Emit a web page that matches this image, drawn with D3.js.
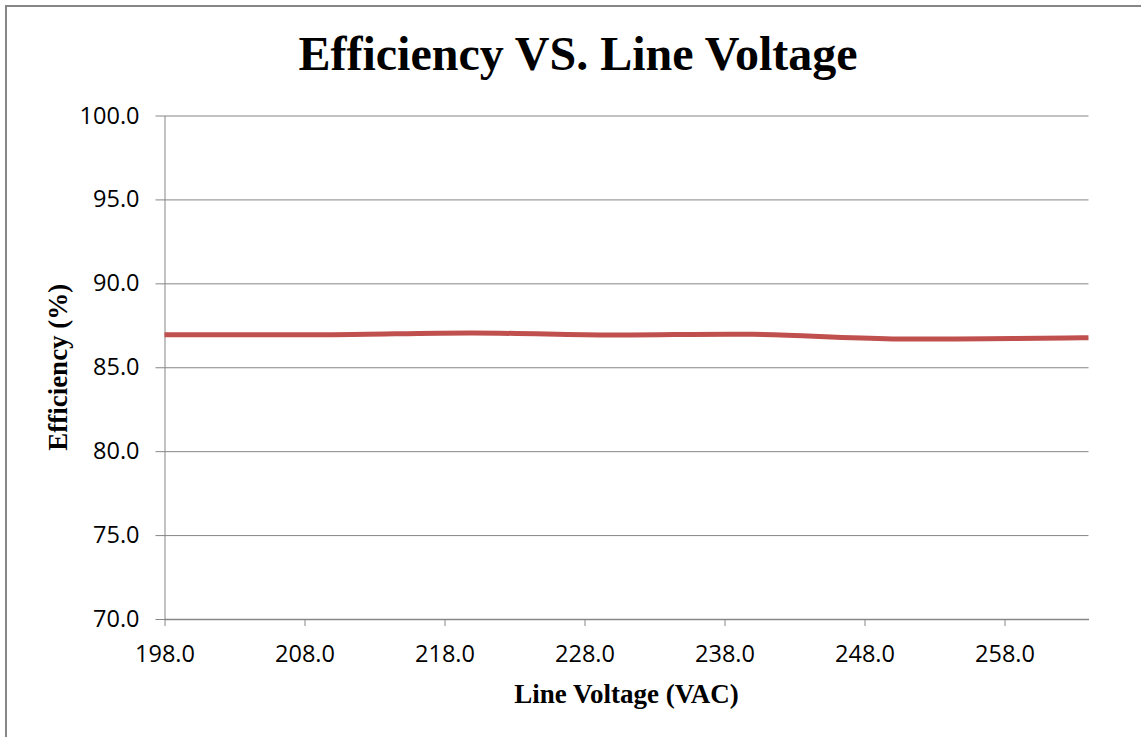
<!DOCTYPE html>
<html>
<head>
<meta charset="utf-8">
<script src="https://cdn.jsdelivr.net/npm/d3@7"></script>
<style>
    body { margin: 0; background: white; }
</style>
</head>
<body>
<div id="chart"></div>
<script>
// measured points (line voltage VAC, efficiency %)
var voltages = [198, 210, 220, 230, 240, 250, 264];
var efficiency = [86.94, 86.94, 87.04, 86.92, 86.96, 86.69, 86.76];

var xTicks = [198, 208, 218, 228, 238, 248, 258];
var yTicks = [70, 75, 80, 85, 90, 95, 100];

document.addEventListener("DOMContentLoaded", () => {
    drawLineChart();
});

let drawLineChart = () => {
    var width = 1141
    var height = 737
    var margin = { top: 115.5, right: 52.5, bottom: 118, left: 164.5 }

    var svg = d3.select("#chart")
        .append("svg")
        .attr("width", width)
        .attr("height", height)

    // outer chart border
    svg.append("rect")
        .attr("x", 6)
        .attr("y", 6)
        .attr("width", width)
        .attr("height", height)
        .attr("fill", "none")
        .attr("stroke", "#868686")
        .attr("stroke-width", 2)

    var x = d3.scaleLinear()
        .domain([198, 264])
        .range([margin.left, width - margin.right])

    var y = d3.scaleLinear()
        .domain([70, 100])
        .range([height - margin.bottom, margin.top])

    // gridlines + y axis
    var yAxis = svg.append("g")
        .attr("transform", "translate(" + margin.left + ",0)")
        .call(d3.axisLeft(y)
            .tickValues(yTicks)
            .tickSize(-(width - margin.right - margin.left))
            .tickSizeOuter(0)
            .tickPadding(25)
            .tickFormat(d3.format(".1f")))
    yAxis.select(".domain").attr("stroke", "#868686")
    yAxis.selectAll(".tick line")
        .attr("stroke", "#868686")
        .attr("x1", -9)
    yAxis.selectAll(".tick text")
        .attr("font-family", "'Open Sans', sans-serif")
        .attr("font-size", 23.5)
        .attr("fill", "black")

    // x axis
    var xAxis = svg.append("g")
        .attr("transform", "translate(0," + y(70) + ")")
        .call(d3.axisBottom(x)
            .tickValues(xTicks)
            .tickSize(7)
            .tickSizeOuter(0)
            .tickPadding(19)
            .tickFormat(d3.format(".1f")))
    xAxis.select(".domain").attr("stroke", "#868686").attr("stroke-width", 1.5)
    xAxis.selectAll(".tick line").attr("stroke", "#868686")
    xAxis.selectAll(".tick text")
        .attr("font-family", "'Open Sans', sans-serif")
        .attr("font-size", 23.5)
        .attr("fill", "black")

    // data line (smoothed like the spreadsheet)
    var points = voltages.map((v, i) => { return [v, efficiency[i]] })
    var line = d3.line()
        .x((d) => { return x(d[0]) })
        .y((d) => { return y(d[1]) })
        .curve(d3.curveCatmullRom.alpha(0.5))

    svg.append("path")
        .datum(points)
        .attr("d", line)
        .attr("fill", "none")
        .attr("stroke", "#C0504D")
        .attr("stroke-width", 5)

    // titles
    svg.append("text")
        .attr("x", 578)
        .attr("y", 70)
        .attr("text-anchor", "middle")
        .attr("font-family", "'Liberation Serif', 'Times New Roman', serif")
        .attr("font-weight", "bold")
        .attr("font-size", 48)
        .text("Efficiency VS. Line Voltage")

    svg.append("text")
        .attr("x", (margin.left + width - margin.right) / 2)
        .attr("y", 703)
        .attr("text-anchor", "middle")
        .attr("font-family", "'Liberation Serif', 'Times New Roman', serif")
        .attr("font-weight", "bold")
        .attr("font-size", 27)
        .text("Line Voltage (VAC)")

    svg.append("text")
        .attr("transform", "translate(67," + y(85) + ") rotate(-90)")
        .attr("text-anchor", "middle")
        .attr("font-family", "'Liberation Serif', 'Times New Roman', serif")
        .attr("font-weight", "bold")
        .attr("font-size", 27)
        .text("Efficiency (%)")
}
</script>
</body>
</html>
